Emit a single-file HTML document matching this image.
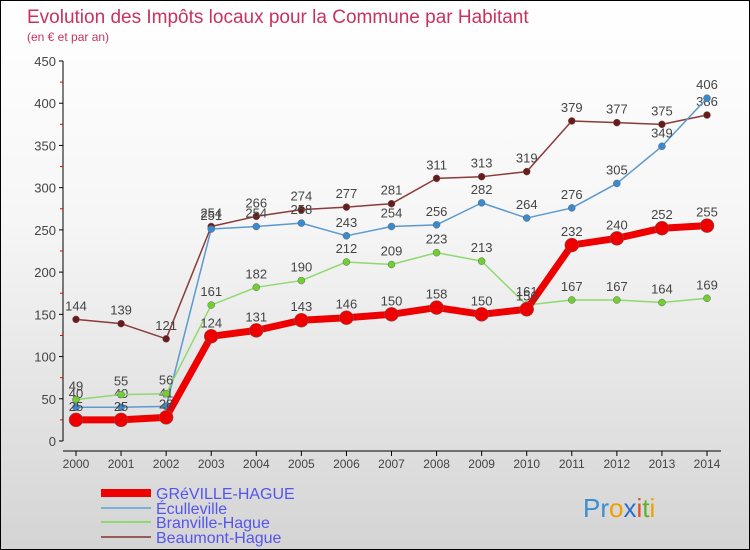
<!DOCTYPE html>
<html><head><meta charset="utf-8"><style>
body{margin:0}
#c{width:750px;height:550px;position:relative;box-sizing:border-box;border:1px solid #000;background:linear-gradient(#fff 0%,#f6f6f6 40%,#d4d4d4 100%);font-family:"Liberation Sans",sans-serif;overflow:hidden}
</style></head><body>
<div id="c">
<svg id="s" width="750" height="550" style="position:absolute;left:0;top:0">
<text x="26" y="22" font-size="19" fill="#c8325f">Evolution des Impôts locaux pour la Commune par Habitant</text>
<text x="26" y="40" font-size="12" fill="#c8325f">(en € et par an)</text>
<g id="axes"></g><g id="series"></g><g id="legend"></g>
<text x="582" y="516" font-size="26" fill="#3a8fd0">Pr<tspan fill="#f0a000">o</tspan><tspan fill="#2a6fd0">x</tspan><tspan fill="#e05020">i</tspan><tspan fill="#60b030">t</tspan><tspan fill="#f0a000">i</tspan></text>
</svg>
</div>
<script>
const years=[2000,2001,2002,2003,2004,2005,2006,2007,2008,2009,2010,2011,2012,2013,2014];
const yTicks=[0,50,100,150,200,250,300,350,400,450];
const greville=[25,25,28,124,131,143,146,150,158,150,156,232,240,252,255];
const ecu=[40,40,41,251,254,258,243,254,256,282,264,276,305,349,406];
const bran=[49,55,56,161,182,190,212,209,223,213,161,167,167,164,169];
const beau=[144,139,121,254,266,274,277,281,311,313,319,379,377,375,386];
const names=["GRéVILLE-HAGUE","Éculleville","Branville-Hague","Beaumont-Hague"];
const NS="http://www.w3.org/2000/svg";
const X=i=>75+i*(706-75)/(years.length-1);
const Y=v=>440-v*380/450;
function mk(t,a,p){const e=document.createElementNS(NS,t);for(const k in a)e.setAttribute(k,a[k]);p.appendChild(e);return e;}
const ax=document.getElementById('axes');
const yl=mk('line',{x1:62,y1:Y(450),x2:62,y2:440,stroke:'#000'},ax);


yTicks.forEach(v=>{
 mk('line',{x1:58,x2:62,y1:Y(v),y2:Y(v),stroke:'#000'},ax);
 if(v<450)mk('line',{x1:59,x2:62,y1:Y(v+25),y2:Y(v+25),stroke:'#e00'},ax);
 const t=mk('text',{x:55,y:Y(v)+5,'font-size':13,fill:'#444','text-anchor':'end'},ax);t.textContent=v;
 
 
});
const xl=mk('line',{x1:62,x2:720,y1:450,y2:450,stroke:'#000'},ax);


years.forEach((y,i)=>{
 mk('line',{x1:X(i),x2:X(i),y1:450,y2:455,stroke:'#000'},ax);
 const t=mk('text',{x:X(i),y:467,'font-size':12,fill:'#444','text-anchor':'middle'},ax);t.textContent=y;
 
 
});
const sg=document.getElementById('series');
function draw(data,col,w,r,dot,name){
 const g=mk('g',{},sg);
 
 
 mk('polyline',{points:data.map((v,i)=>X(i)+','+Y(v)).join(' '),fill:'none',stroke:col,'stroke-width':w,'stroke-linejoin':'round'},g);
 data.forEach((v,i)=>{
  const c=mk('circle',{cx:X(i),cy:Y(v),r:r,fill:dot,stroke:'#666','stroke-width':0.5},g);
  
  
  const t=mk('text',{x:X(i),y:Y(v)-9,'font-size':13,fill:'#444','text-anchor':'middle'},g);t.textContent=v;
  
  
 });
}
draw(beau,'#8b3a3a',1.5,3.5,'#6b1a1a','series-beaumont');
draw(ecu,'#5a9ad0',1.5,3.5,'#3a8ad0','series-eculleville');
draw(bran,'#90d870',1.5,3.5,'#70d030','series-branville');
draw(greville,'#ee0000',7,7,'#ee0000','series-greville');
const lg=document.getElementById('legend');
const lc=['#ee0000','#7ab0d8','#90d870','#9a5a5a'],lw=[8,2,2,2],ly=[493,508,522,537];
names.forEach((n,i)=>{
 const g=mk('g',{},lg);
 
 
 mk('line',{x1:100,x2:150,y1:ly[i]-1,y2:ly[i]-1,stroke:lc[i],'stroke-width':lw[i]},g);
 const t=mk('text',{x:155,y:ly[i]+5,'font-size':16,fill:'#5555ee'},g);t.textContent=n;
});
</script>
</body></html>
